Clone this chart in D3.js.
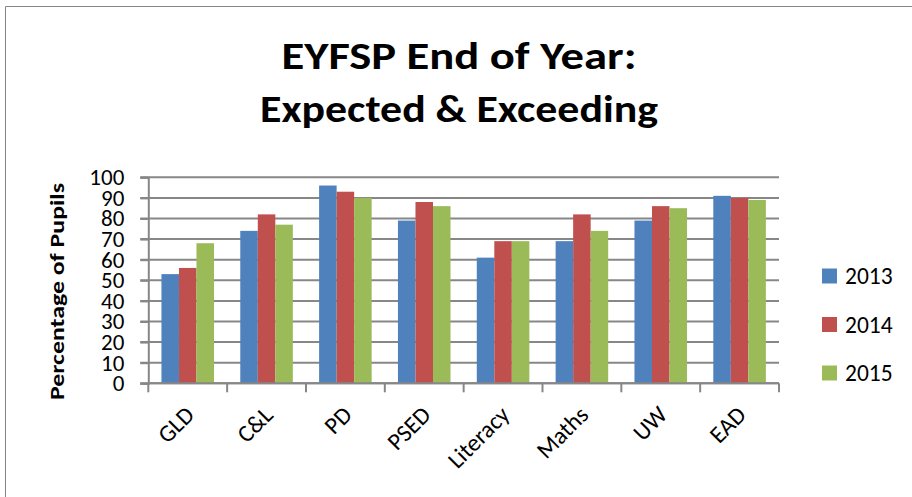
<!DOCTYPE html>
<html>
<head>
<meta charset="utf-8">
<script src="https://cdn.jsdelivr.net/npm/d3@7"></script>
<style>
  html, body { margin: 0; padding: 0; background: #fff; }
  svg { display: block; }
  text { font-family: Carlito, Calibri, Lato, "Open Sans", sans-serif; fill: #000; }
</style>
</head>
<body>
<svg id="chart" width="912" height="497"></svg>
<script>
const categories = ["GLD", "C&L", "PD", "PSED", "Literacy", "Maths", "UW", "EAD"];
const seriesNames = ["2013", "2014", "2015"];
const values2013 = [53, 74, 96, 79, 61, 69, 79, 91];
const values2014 = [56, 82, 93, 88, 69, 82, 86, 90];
const values2015 = [68, 77, 90, 86, 69, 74, 85, 89];
const yTicks = [0, 10, 20, 30, 40, 50, 60, 70, 80, 90, 100];
const colors = ["#4F81BD", "#C0504D", "#9BBB59"];
const titleLines = ["EYFSP End of Year:", "Expected & Exceeding"];
const yLabel = "Percentage of Pupils";

const seriesValues = [values2013, values2014, values2015];

const svg = d3.select("#chart");
svg.append("rect").attr("width", 912).attr("height", 497).attr("fill", "#fff");

// outer chart border (left & top visible)
svg.append("path")
  .attr("d", "M5.5,497 V6.5 H912")
  .attr("fill", "none").attr("stroke", "#868686").attr("stroke-width", 1);

const plotLeft = 148.3, plotRight = 779, plotTop = 177.3, plotBottom = 383.3;

const x = d3.scaleBand().domain(categories).range([plotLeft, plotRight])
  .paddingInner(1/3).paddingOuter(1/6);
const xs = d3.scaleBand().domain(seriesNames).range([0, x.bandwidth()]);
const y = d3.scaleLinear().domain([0, 100]).range([plotBottom, plotTop]);

const gridColor = "#878787";

// gridlines
svg.append("g").selectAll("line").data(yTicks).join("line")
  .attr("x1", plotLeft - 8).attr("x2", plotRight)
  .attr("y1", d => y(d)).attr("y2", d => y(d))
  .attr("stroke", gridColor).attr("stroke-width", 2);

// bars
const groups = svg.append("g").selectAll("g").data(categories).join("g")
  .attr("transform", d => `translate(${x(d)},0)`);
groups.selectAll("rect")
  .data((c, i) => seriesNames.map((s, j) => ({ s, v: seriesValues[j][i], j })))
  .join("rect")
  .attr("x", d => xs(d.s))
  .attr("width", xs.bandwidth())
  .attr("y", d => y(d.v))
  .attr("height", d => y(0) - y(d.v))
  .attr("fill", d => colors[d.j]);

// y axis
const yAxis = svg.append("g").attr("transform", `translate(${plotLeft},0)`)
  .call(d3.axisLeft(y).tickValues(yTicks).tickSize(8).tickPadding(16));
yAxis.select(".domain").attr("stroke", gridColor).attr("stroke-width", 2);
yAxis.selectAll(".tick line").attr("stroke", gridColor).attr("stroke-width", 2);
yAxis.selectAll("text").attr("font-size", 23).attr("fill", "#000")
  .style("font-family", "Carlito, Calibri, Lato, sans-serif");

// x axis
const boundaries = categories.map(c => x(c) - x.step() * x.paddingInner() / 2).concat([plotRight]);
svg.append("line").attr("x1", plotLeft).attr("x2", plotRight).attr("y1", plotBottom).attr("y2", plotBottom)
  .attr("stroke", gridColor).attr("stroke-width", 2);
svg.append("g").selectAll("line").data(boundaries).join("line")
  .attr("x1", d => d).attr("x2", d => d).attr("y1", plotBottom).attr("y2", plotBottom + 9)
  .attr("stroke", gridColor).attr("stroke-width", 2);

svg.append("g").selectAll("text").data(categories).join("text")
  .attr("transform", d => `translate(${x(d) + x.bandwidth() / 2 + 2},${plotBottom + 27}) rotate(-45)`)
  .attr("text-anchor", "end")
  .attr("font-size", 24)
  .attr("dy", "0.35em")
  .text(d => d);

// y label
svg.append("text")
  .attr("transform", `translate(64,291.5) rotate(-90)`)
  .attr("text-anchor", "middle")
  .attr("font-size", 20).attr("font-weight", "bold")
  .attr("textLength", 217).attr("lengthAdjust", "spacingAndGlyphs")
  .text(yLabel);

// title
const titleWidths = [355, 398];
svg.append("g").selectAll("text").data(titleLines).join("text")
  .attr("x", 459).attr("y", (d, i) => 69 + i * 53)
  .attr("text-anchor", "middle")
  .attr("font-size", 38).attr("font-weight", "bold")
  .attr("textLength", (d, i) => titleWidths[i]).attr("lengthAdjust", "spacingAndGlyphs")
  .text(d => d);

// legend
const legend = svg.append("g").selectAll("g").data(seriesNames).join("g")
  .attr("transform", (d, i) => `translate(822,${276 + i * 48.5})`);
legend.append("rect").attr("x", 0).attr("y", -7.5).attr("width", 15).attr("height", 15)
  .attr("fill", (d, i) => colors[i]);
legend.append("text").attr("x", 23).attr("y", 0).attr("dy", "0.35em")
  .attr("font-size", 23.5).text(d => d);
</script>
</body>
</html>
